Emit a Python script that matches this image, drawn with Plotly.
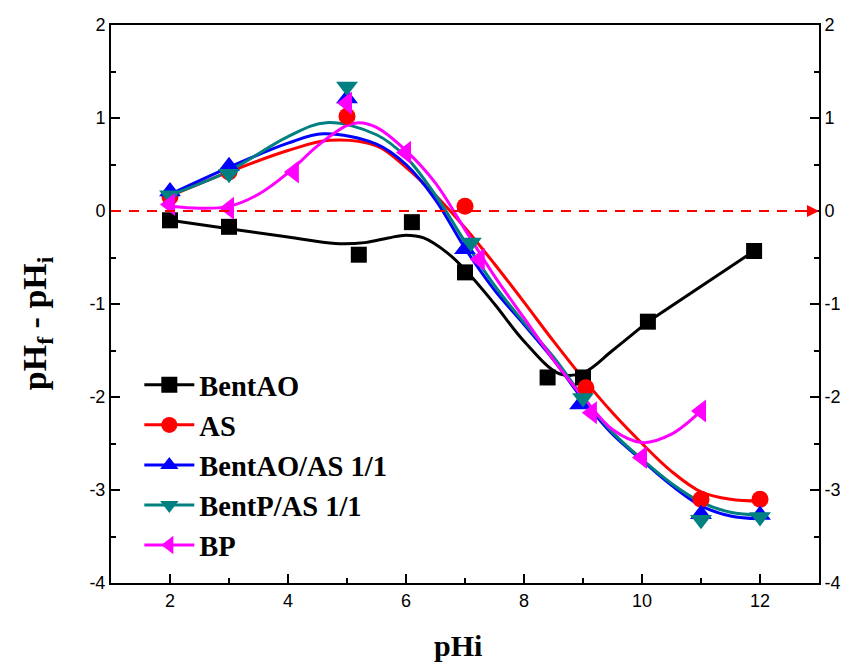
import plotly.graph_objects as go

# ---- measured data points ----
bentao_x = [2, 3, 5.2, 6.1, 7, 8.4, 9, 10.1, 11.9]
bentao_y = [-0.1, -0.17, -0.47, -0.12, -0.66, -1.79, -1.79, -1.19, -0.43]

as_x = [2, 3, 5, 7, 9.05, 11, 12]
as_y = [0.15, 0.42, 1.02, 0.05, -1.9, -3.1, -3.1]

bentao_as_x = [2, 3, 5, 7, 8.95, 11, 12]
bentao_as_y = [0.21, 0.48, 1.21, -0.41, -2.08, -3.26, -3.27]

bentp_as_x = [2, 3, 5, 7.1, 9, 11, 12]
bentp_as_y = [0.17, 0.4, 1.34, -0.34, -2.01, -3.32, -3.29]

bp_x = [2, 3, 4.1, 5, 6, 7.25, 9.15, 10, 11]
bp_y = [0.07, 0.03, 0.42, 1.16, 0.63, -0.52, -2.17, -2.65, -2.15]

# ---- fitted curves ----
bentao_fit_x = [2, 3, 4, 4.8, 5.3, 5.7, 6.0, 6.3, 6.7, 7, 7.5, 8, 8.6, 9, 9.5, 10.1]
bentao_fit_y = [-0.1, -0.19, -0.28, -0.35, -0.34, -0.29, -0.26, -0.29, -0.45, -0.63, -1.0, -1.4, -1.75, -1.74, -1.5, -1.19]

as_fit_x = [2, 3, 4, 4.7, 5.5, 6, 6.5, 7, 7.5, 8, 8.5, 9, 9.5, 10, 10.5, 11, 11.5, 12]
as_fit_y = [0.16, 0.42, 0.65, 0.76, 0.7, 0.47, 0.17, -0.18, -0.57, -0.98, -1.4, -1.8, -2.17, -2.5, -2.8, -3.02, -3.1, -3.12]

bentao_as_fit_x = [2, 3, 4, 4.6, 5.5, 6, 6.5, 7, 7.5, 8, 8.5, 9, 9.5, 10, 10.5, 11, 11.5, 12]
bentao_as_fit_y = [0.18, 0.47, 0.73, 0.83, 0.72, 0.5, 0.12, -0.4, -0.85, -1.22, -1.6, -2.03, -2.4, -2.68, -2.95, -3.17, -3.28, -3.31]

bentp_as_fit_x = [2, 3, 4, 4.65, 5.5, 6, 6.5, 7, 7.5, 8, 8.5, 9, 9.5, 10, 10.5, 11, 11.5, 12]
bentp_as_fit_y = [0.17, 0.43, 0.8, 0.95, 0.82, 0.58, 0.17, -0.33, -0.8, -1.2, -1.57, -2.0, -2.38, -2.67, -2.93, -3.13, -3.24, -3.27]

bp_fit_x = [2, 2.5, 3, 3.5, 4, 4.5, 5, 5.2, 5.5, 6, 6.5, 7, 7.5, 8, 8.5, 9, 9.5, 10, 10.5, 11]
bp_fit_y = [0.05, 0.03, 0.05, 0.18, 0.41, 0.7, 0.92, 0.95, 0.9, 0.65, 0.3, -0.2, -0.7, -1.15, -1.6, -2.0, -2.35, -2.49, -2.4, -2.15]

series_names = ["BentAO", "AS", "BentAO/AS 1/1", "BentP/AS 1/1", "BP"]
x_title = "pHi"
y_title = "pH<sub>f</sub> - pH<sub>i</sub>"
zero_level = 0

x_range = [1, 13]
y_range = [-4, 2]
y_tickvals = [-4, -3, -2, -1, 0, 1, 2]
y_ticktext = ["-4", "-3", "-2", "-1", "0", "1", "2"]

colors = ["#000000", "#FF0000", "#0000FF", "#008080", "#FF00FF"]
symbols = ["square", "circle", "triangle-up", "triangle-down", "triangle-left"]
msizes = [16, 17, 19, 19, 20]

pts = [(bentao_x, bentao_y), (as_x, as_y), (bentao_as_x, bentao_as_y),
       (bentp_as_x, bentp_as_y), (bp_x, bp_y)]
fits = [(bentao_fit_x, bentao_fit_y), (as_fit_x, as_fit_y),
        (bentao_as_fit_x, bentao_as_fit_y), (bentp_as_fit_x, bentp_as_fit_y),
        (bp_fit_x, bp_fit_y)]

fig = go.Figure()

# curves
for i, (fx, fy) in enumerate(fits):
    fig.add_trace(go.Scatter(x=fx, y=fy, mode="lines",
                             line=dict(color=colors[i], width=3, shape="spline", smoothing=1),
                             showlegend=False, hoverinfo="skip"))
    if i == 0:
        fig.add_trace(go.Scatter(x=bentao_x[-2:], y=bentao_y[-2:], mode="lines",
                                 line=dict(color=colors[0], width=3),
                                 showlegend=False, hoverinfo="skip"))

# markers
for i, (px, py) in enumerate(pts):
    fig.add_trace(go.Scatter(x=px, y=py, mode="markers",
                             marker=dict(symbol=symbols[i], size=msizes[i], color=colors[i],
                                         line=dict(width=0)),
                             showlegend=False))

# legend entries
for i, name in enumerate(series_names):
    fig.add_trace(go.Scatter(x=[None], y=[None], mode="lines+markers", name=name,
                             legendgroup=name,
                             line=dict(color=colors[i], width=3),
                             marker=dict(symbol=symbols[i], size=msizes[i], color=colors[i])))

# right-side axis carrier
fig.add_trace(go.Scatter(x=[None], y=[None], yaxis="y2", showlegend=False))

# dashed zero reference with arrow
fig.add_shape(type="line", x0=x_range[0], x1=x_range[1] - 0.2, y0=zero_level, y1=zero_level,
              xref="x", yref="y", line=dict(color="#FF0000", width=2, dash="10px,8px"))
fig.add_annotation(x=x_range[1], y=zero_level, ax=x_range[1] - 0.35, ay=zero_level,
                   xref="x", yref="y", axref="x", ayref="y", text="",
                   showarrow=True, arrowhead=2, arrowsize=1.2, arrowwidth=2, arrowcolor="#FF0000")

tickfont = dict(family="Liberation Sans, Arial", size=18, color="#000")
titlefont = dict(family="Liberation Serif, Times New Roman", size=34, color="#000", weight="bold")
xtitlefont = dict(family="Liberation Serif, Times New Roman", size=30, color="#000", weight="bold")

# axis titles
fig.add_annotation(text=x_title, xref="paper", yref="paper", x=0.49, y=-0.112,
                   xanchor="center", yanchor="middle", showarrow=False, font=xtitlefont)
fig.add_annotation(text=y_title, xref="paper", yref="paper", x=-0.105, y=0.465,
                   xanchor="center", yanchor="middle", showarrow=False, font=titlefont,
                   textangle=-90)

fig.update_layout(
    width=848, height=664,
    margin=dict(l=111, r=29, t=25, b=81),
    plot_bgcolor="white", paper_bgcolor="white",
    xaxis=dict(range=x_range, dtick=2, tick0=0, ticks="inside", ticklen=9, tickwidth=1.5,
               tickcolor="#000", showline=True, linecolor="#000", linewidth=2, mirror=True,
               showgrid=False, zeroline=False, tickfont=tickfont, automargin=False,
               minor=dict(dtick=1, ticks="inside", ticklen=5, tickwidth=1.5, tickcolor="#000")),
    yaxis=dict(range=y_range, tickvals=y_tickvals, ticktext=y_ticktext, ticks="inside",
               ticklen=9, tickwidth=1.5, automargin=False,
               tickcolor="#000", showline=True, linecolor="#000", linewidth=2,
               showgrid=False, zeroline=False, tickfont=tickfont,
               minor=dict(dtick=0.5, ticks="inside", ticklen=5, tickwidth=1.5, tickcolor="#000")),
    yaxis2=dict(range=y_range, tickvals=y_tickvals, ticktext=y_ticktext, overlaying="y",
                side="right", ticks="inside", automargin=False,
                ticklen=9, tickwidth=1.5, tickcolor="#000", showline=True, linecolor="#000",
                linewidth=2, showgrid=False, zeroline=False, tickfont=tickfont,
                minor=dict(dtick=0.5, ticks="inside", ticklen=5, tickwidth=1.5, tickcolor="#000")),
    legend=dict(x=0.04, y=0.40, xanchor="left", yanchor="top", bgcolor="rgba(0,0,0,0)",
                font=dict(family="Liberation Serif, Times New Roman", size=28.5, color="#000",
                          weight="bold"),
                tracegroupgap=0, itemwidth=50),
    showlegend=True,
)

fig.write_html("out.html")
